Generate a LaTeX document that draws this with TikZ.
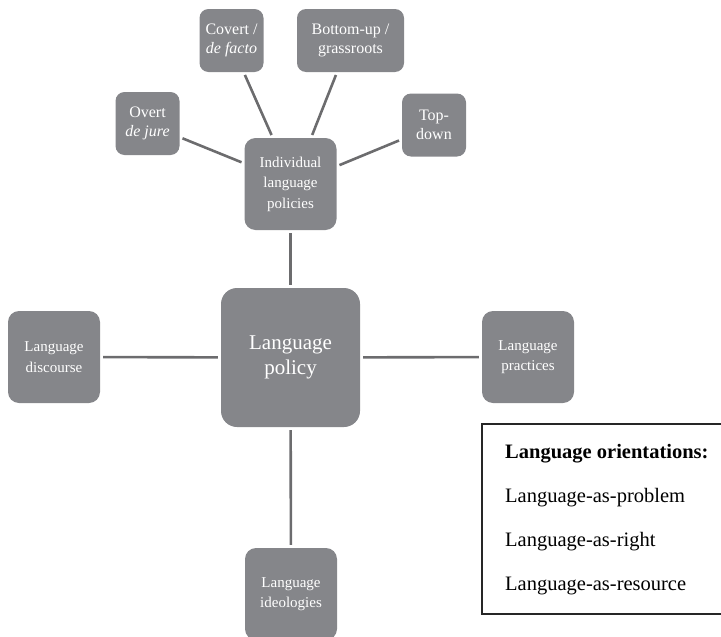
\documentclass[tikz,border=0pt]{standalone}
\usepackage{fontspec}
\setmainfont{Liberation Serif}
\usetikzlibrary{positioning}
\definecolor{boxgray}{RGB}{133,134,138}
\definecolor{linegray}{RGB}{108,108,110}

\begin{document}
\begin{tikzpicture}[x=1pt, y=-1pt,
    leaf/.style={rectangle, rounded corners=9pt, fill=boxgray, text=white, minimum width=64pt, minimum height=63pt, inner sep=1pt, align=center, font=\fontsize{16}{18.5}\selectfont},
    hub/.style={leaf, minimum width=92pt, minimum height=92pt, rounded corners=11pt, font=\fontsize{15}{20.5}\selectfont},
    core/.style={leaf, minimum width=139pt, minimum height=139pt, rounded corners=16pt, font=\fontsize{21}{25}\selectfont},
    link/.style={draw=linegray, line width=2.6pt, shorten <=3pt, shorten >=3pt}]
                        \clip (0,0) rectangle (721,637);
                        \node[core] (policy) at (290.5,357.5) {Language\\policy};
                        \node[hub] (individual) at (290.5,184) {Individual\\language\\policies};
                        \node[hub] (discourse) at (54,357) {Language\\discourse};
                        \node[hub] (practices) at (528,357) {Language\\practices};
                        \node[hub] (ideologies) at (291,594) {Language\\ideologies};

                        \node[leaf] (overt) at (147.5,123.5) {Overt\\\textit{de jure}};
                        \node[leaf] (covert) at (231.5,40.5) {Covert /\\\textit{de facto}};
                        \node[leaf, minimum width=107pt] (bottomup) at (350.5,40.5) {Bottom-up /\\grassroots};
                        \node[leaf] (topdown) at (434,125) {Top-\\down};

                        \draw
                        (individual) edge[link] (policy)
                        (policy) edge[link] (discourse)
                        (policy) edge[link] (practices)
                        (policy) edge[link] (ideologies)
                        (individual.156) edge[link] (overt.-23)
                        (individual.111) edge[link] (covert.-69)
                        (individual.66) edge[link] (bottomup.-113)
                        (individual.21) edge[link] (topdown.204);

                        % orientations box
                        \draw[line width=1.2pt, draw=black!85] (482,424) rectangle (726,614);
                        \node[anchor=base west, inner sep=0pt, align=left, font=\fontsize{20.5}{44}\selectfont] (orientations) at (505,590)
                        {\textbf{Language orientations:}\\Language-as-problem\\Language-as-right\\Language-as-resource};
                    \end{tikzpicture}
\end{document}
